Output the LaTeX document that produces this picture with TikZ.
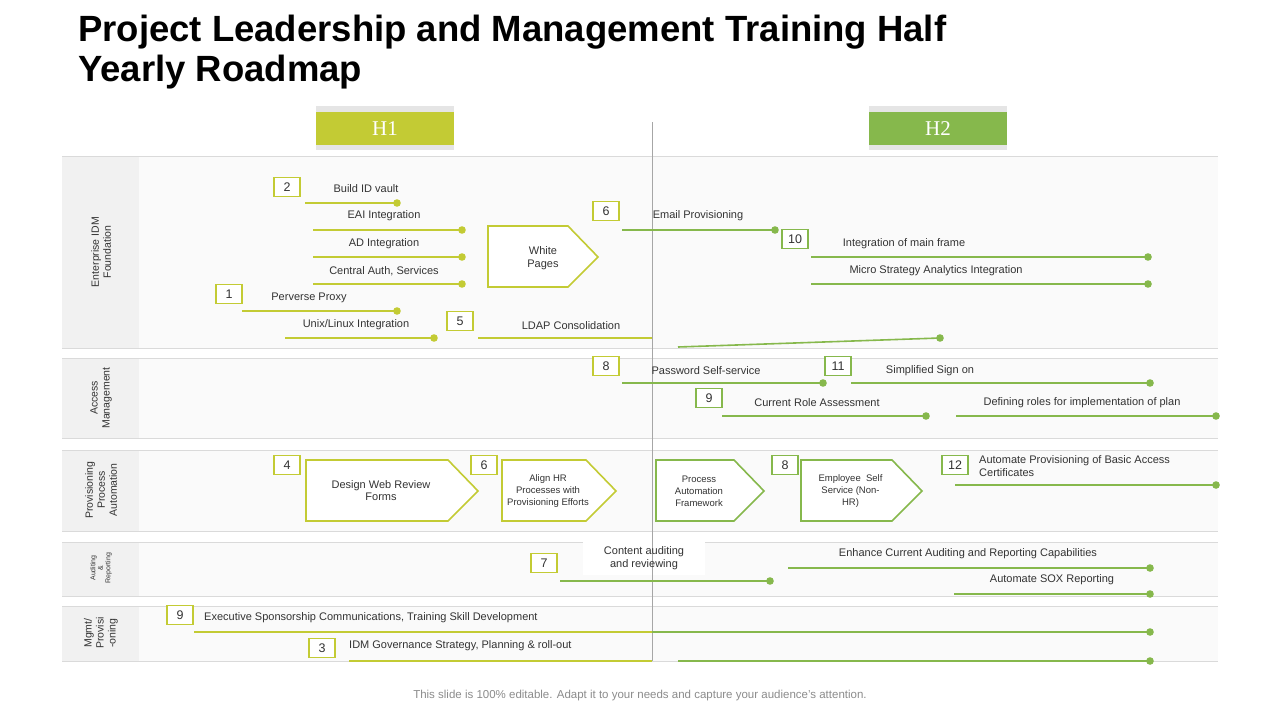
\documentclass[tikz,border=0pt]{standalone}
\usepackage{fontspec}
\setmainfont{Liberation Sans}
\usepackage{tikz}
\definecolor{olive}{HTML}{C3CB34}
\definecolor{leaf}{HTML}{86B84C}
\definecolor{band}{HTML}{F1F1F1}
\definecolor{pale}{HTML}{FAFAFA}
\definecolor{rule}{HTML}{DADADA}
\definecolor{txt}{HTML}{333333}
\tikzset{
  numbox/.style={draw=#1,line width=1.8pt,fill=white,minimum width=26pt,minimum height=19pt,inner sep=0pt,font=\fontsize{12.5}{12}\selectfont,text=txt},
  lbl/.style={font=\fontsize{11}{13}\selectfont,text=txt,inner sep=1pt},
  tag/.style={font=\fontsize{10.5}{12}\selectfont,text=txt,align=center,rotate=90},
  track/.style={draw=#1,line width=1.6pt},
  pent/.style={draw=#1,line width=1.6pt,fill=white},
}
\newcommand{\pentbox}[6]{% name,colour,x1,x2,tip,text
  \draw[pent=#2] (#3,460) -- (#4,460) -- (#5,491) -- (#4,521) -- (#3,521) -- cycle;
  \node[lbl,align=center,font=\fontsize{#6}{12}\selectfont] (#1) at ({(#3+#4)/2+4},491)}
\begin{document}
\begin{tikzpicture}[x=1pt,y=-1pt]
\useasboundingbox (0,0) rectangle (1280,720);
\fill[white] (0,0) rectangle (1280,720);
% title
\node[anchor=west,font=\fontsize{36.5}{40}\selectfont\bfseries,align=left,inner sep=0] (title) at (78,52) {Project Leadership and Management Training Half\\Yearly Roadmap};
% lanes
\foreach \t/\b in {156/348,358/438,450/531,542/596,606/661}{
  \fill[pale] (139,\t) rectangle (1218,\b);
  \fill[band] (62,\t) rectangle (139,\b);
  \draw[rule,line width=1pt] (62,\t) -- (1218,\t) (62,\b) -- (1218,\b);
}
\fill[white] (583,540) rectangle (705,575);
\node[tag] (lane1) at (101,252) {Enterprise IDM\\Foundation};
\node[tag] (lane2) at (101,398) {Access\\Management};
\node[tag] (lane3) at (101,490) {Provisioning\\Process\\Automation};
\node[tag,font=\fontsize{7}{7.5}\selectfont] (lane4) at (101,568) {Auditing\\\&\\Reporting};
\node[tag] (lane5) at (101,633) {Mgmt/\\Provisi\\-oning};
% headers
\fill[rule!70] (316,106) rectangle (454,150);
\node[fill=olive,minimum width=138pt,minimum height=33pt,text=white,font=\fontsize{21}{21}\selectfont] (h1) at (385,128.5) {\fontspec{Liberation Serif}H1};
\fill[rule!70] (869,106) rectangle (1007,150);
\node[fill=leaf,minimum width=138pt,minimum height=33pt,text=white,font=\fontsize{21}{21}\selectfont] (h2) at (938,128.5) {\fontspec{Liberation Serif}H2};
\draw[gray!70,line width=0.8pt] (652,122) -- (652,661);
% tracks: start/end/y/colour
\foreach \a/\b/\y/\c in {305/397/203/olive,313/462/230/olive,313/462/257/olive,313/462/284/olive,242/397/311/olive,285/434/338/olive,
  622/775/230/leaf,811/1148/257/leaf,811/1148/284/leaf,622/823/383/leaf,851/1150/383/leaf,722/926/416/leaf,956/1216/416/leaf,
  955/1216/485/leaf,560/770/581/leaf,788/1150/568/leaf,954/1150/594/leaf,652/1150/632/leaf,678/1150/661/leaf}{
  \coordinate (s) at (\a,\y);
  \coordinate (e) at (\b,\y);
  \draw[track=\c] (s) -- (e);
  \fill[\c] (e) circle (3.8pt);
}
\coordinate (ldapA) at (478,338); \coordinate (ldapB) at (652,338);
\coordinate (ldapC) at (678,347); \coordinate (ldapD) at (940,338);
\draw[track=olive] (ldapA) -- (ldapB);
\draw[track=leaf] (ldapC) -- (ldapD); \fill[leaf] (ldapD) circle (3.8pt);
\coordinate (execA) at (194,632); \coordinate (execB) at (652,632);
\draw[track=olive] (execA) -- (execB);
\coordinate (idmA) at (349,661); \coordinate (idmB) at (652,661);
\draw[track=olive] (idmA) -- (idmB);
% white pages
\draw[pent=olive] (488,226) -- (568,226) -- (598,257) -- (568,287) -- (488,287) -- cycle;
\node[lbl,align=center] (wp) at (543,258) {White\\Pages};
% labels
\node[lbl] (t1) at (366,189) {Build ID vault};
\node[lbl] (t2) at (384,216) {EAI Integration};
\node[lbl] (t3) at (384,244) {AD Integration};
\node[lbl] (t4) at (384,271) {Central Auth, Services};
\node[lbl] (t5) at (309,298) {Perverse Proxy};
\node[lbl] (t6) at (356,325) {Unix/Linux Integration};
\node[lbl] (t7) at (571,326) {LDAP Consolidation};
\node[lbl] (t8) at (698,216) {Email Provisioning};
\node[lbl] (t9) at (904,244) {Integration of main frame};
\node[lbl] (t10) at (936,271) {Micro Strategy Analytics Integration};
\node[lbl] (t11) at (706,371) {Password Self-service};
\node[lbl] (t12) at (930,371) {Simplified Sign on};
\node[lbl] (t13) at (817,403) {Current Role Assessment};
\node[lbl] (t14) at (1082,403) {Defining roles for implementation of plan};
\node[lbl,anchor=west,align=left] (t15) at (978,466) {Automate Provisioning of Basic Access\\Certificates};
\node[lbl,align=center] (t16) at (644,558) {Content auditing\\and reviewing};
\node[lbl] (t17) at (968,554) {Enhance Current Auditing and Reporting Capabilities};
\node[lbl] (t18) at (1052,580) {Automate SOX Reporting};
\node[lbl,anchor=west] (t19) at (203,618) {Executive Sponsorship Communications, Training Skill Development};
\node[lbl,anchor=west] (t20) at (348,646) {IDM Governance Strategy, Planning \& roll-out};
% process arrows
\pentbox{p1}{olive}{306}{448}{478}{11} {Design Web Review\\Forms};
\pentbox{p2}{olive}{502}{586}{616}{9.5} {Align HR\\Processes with\\Provisioning Efforts};
\pentbox{p3}{leaf}{656}{734}{764}{9.5} {Process\\Automation\\Framework};
\pentbox{p4}{leaf}{801}{892}{922}{9.5} {Employee\ \ Self\\Service (Non-\\HR)};
% number boxes
\foreach \n/\x/\y/\c in {2/287/187/olive,1/229/294/olive,5/460/321/olive,6/606/211/olive,10/795/239/leaf,
  8/606/366/olive,11/838/366/leaf,9/709/398/leaf,4/287/465/olive,6/484/465/olive,8/785/465/leaf,12/955/465/leaf,
  7/544/563/olive,9/180/615/olive,3/322/648/olive}{
  \node[numbox=\c] (n\n-\x) at (\x,\y) {\n};
}
% footer
\node[font=\fontsize{11.5}{12}\selectfont,text=gray!90] (foot) at (640,696) {This slide is 100\% editable. Adapt it to your needs and capture your audience's attention.};
\end{tikzpicture}
\end{document}
